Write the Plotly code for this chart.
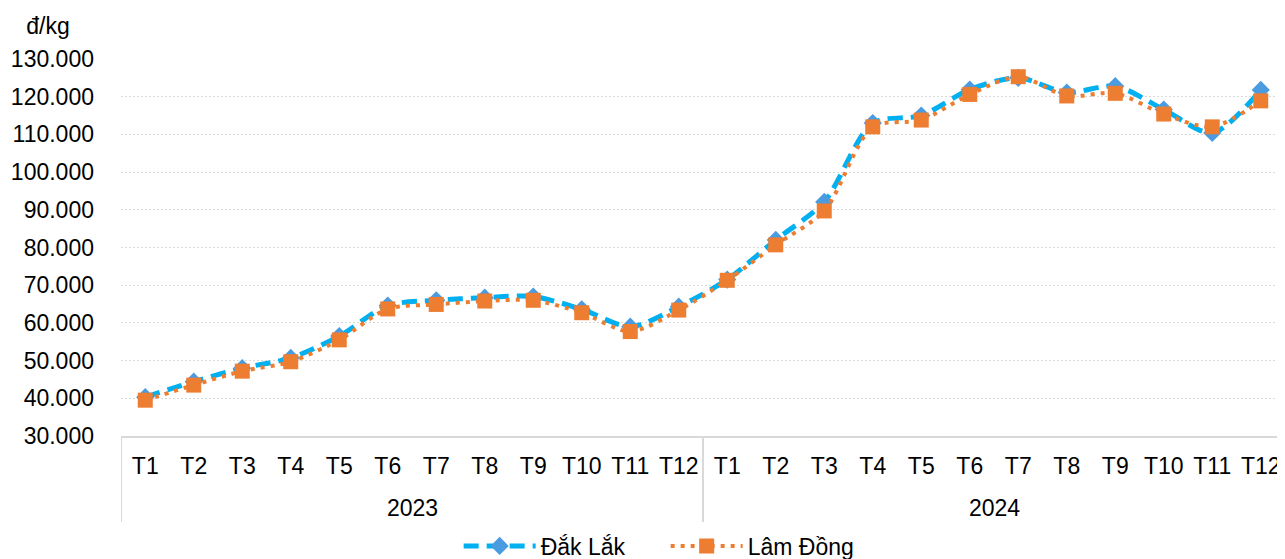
import plotly.graph_objects as go

years = ["2023"] * 12 + ["2024"] * 12
months = ["T1", "T2", "T3", "T4", "T5", "T6", "T7", "T8", "T9", "T10", "T11", "T12"] * 2

dak_lak = [40300, 44400, 48000, 50700, 56500, 64600, 66000, 66700, 67000, 63600, 59000, 64300,
           71500, 82000, 92100, 113000, 115000, 121900, 125000, 121100, 122800, 116600, 110400, 121800]
lam_dong = [39500, 43500, 47200, 49700, 55500, 63700, 64900, 65800, 66000, 62700, 57700, 63400,
            71300, 80700, 89700, 112000, 113800, 120600, 125300, 120200, 120900, 115400, 112000, 118900]

FONT = "Liberation Sans, Arial, sans-serif"
GRID = "#D9D9D9"

# unique category keys, shown as month labels
keys = [m + " " + y for m, y in zip(months, years)]

fig = go.Figure()

# Dak Lak: dashed light blue line with diamonds
fig.add_trace(go.Scatter(x=keys, y=dak_lak, name="Đắk Lắk",
                         mode="lines+markers",
                         line=dict(color="#00B0F0", width=5, dash="15px,8px",
                                   shape="spline", smoothing=0.8),
                         marker=dict(symbol="diamond", size=14, color="#4A9BE0",
                                     line=dict(width=0))))

# Lam Dong: dotted orange line with squares
fig.add_trace(go.Scatter(x=keys, y=lam_dong, name="Lâm Đồng",
                         mode="lines+markers",
                         line=dict(color="#ED7D31", width=4, dash="4px,6px",
                                   shape="spline", smoothing=0.8),
                         marker=dict(symbol="square", size=15, color="#ED7D31",
                                     line=dict(width=0))))

# year group labels and divider lines under the month labels
annotations = []
shapes = []
groups = []
for i, y in enumerate(years):
    if not groups or groups[-1][0] != y:
        groups.append([y, i, i])
    else:
        groups[-1][2] = i
for y, a, b in groups:
    annotations.append(dict(text=y, xref="x", yref="paper", x=(a + b) / 2, y=-0.191,
                            xanchor="center", yanchor="middle", showarrow=False,
                            font=dict(size=23)))
    shapes.append(dict(type="line", xref="x", yref="paper", x0=a - 0.5, x1=a - 0.5,
                       y0=0, y1=-0.228, line=dict(color=GRID, width=2)))
shapes.append(dict(type="line", xref="x", yref="paper", x0=len(years) - 0.5,
                   x1=len(years) - 0.5, y0=0, y1=-0.228, line=dict(color=GRID, width=2)))

# page has an 8px body margin, so the figure is 8px smaller than the window
fig.update_layout(
    width=1277, height=551,
    paper_bgcolor="white", plot_bgcolor="white",
    separators=",.",
    font=dict(family=FONT, size=23, color="#000000"),
    margin=dict(l=113, r=0, t=51, b=123),
    showlegend=True,
    legend=dict(orientation="h", xref="container", yref="container",
                x=0.515, xanchor="center", y=0.0236, yanchor="middle",
                itemwidth=72, entrywidth=120, entrywidthmode="pixels",
                font=dict(size=23), bgcolor="rgba(0,0,0,0)"),
    title=dict(text="đ/kg", xref="container", yref="container",
               x=0.0313, y=0.967, xanchor="center", yanchor="middle",
               font=dict(size=23, color="#000000")),
    annotations=annotations,
    shapes=shapes,
)

fig.update_xaxes(type="category", range=[-0.5, len(keys) - 0.5],
                 tickvals=keys, ticktext=months,
                 showline=True, linecolor=GRID, linewidth=2,
                 showgrid=False, ticks="", tickangle=0, automargin=False,
                 ticklabelstandoff=8, tickfont=dict(size=23))

fig.update_yaxes(range=[30000, 130000], dtick=10000, tickformat=",.0f",
                 showgrid=True, gridcolor=GRID, gridwidth=1, griddash="2px,2px",
                 zeroline=False, showline=False, ticks="", automargin=False,
                 ticklabelstandoff=26, tickfont=dict(size=23))

fig.write_html("out.html")
